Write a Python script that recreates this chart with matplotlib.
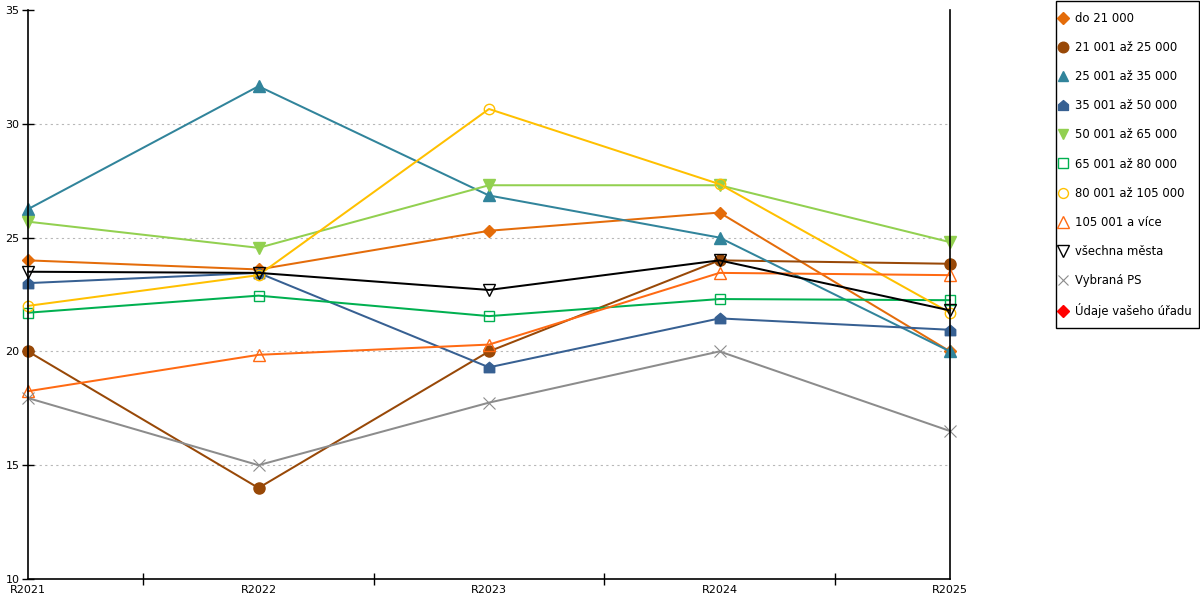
import matplotlib
matplotlib.use("Agg")
import matplotlib.pyplot as plt
from matplotlib.path import Path
from matplotlib.patches import Rectangle
import numpy as np

categories = ["R2021", "R2022", "R2023", "R2024", "R2025"]

do_21000 = [24.0, 23.6, 25.3, 26.1, 20.0]
s21_25 = [20.0, 14.0, 20.0, 24.0, 23.85]
s25_35 = [26.25, 31.65, 26.85, 25.0, 20.0]
s35_50 = [23.0, 23.45, 19.3, 21.45, 20.95]
s50_65 = [25.7, 24.55, 27.3, 27.3, 24.8]
s65_80 = [21.7, 22.45, 21.55, 22.3, 22.25]
s80_105 = [22.0, 23.35, 30.65, 27.35, 21.7]
s105_plus = [18.25, 19.85, 20.3, 23.45, 23.35]
vsechna = [23.5, 23.45, 22.7, 24.0, 21.8]
vybrana = [17.95, 15.0, 17.75, 20.0, 16.5]
udaje = [np.nan, np.nan, np.nan, np.nan, np.nan]

labels = ["do 21 000", "21 001 až 25 000", "25 001 až 35 000", "35 001 až 50 000",
          "50 001 až 65 000", "65 001 až 80 000", "80 001 až 105 000", "105 001 a více",
          "všechna města", "Vybraná PS", "Údaje vašeho úřadu"]
y_ticks = [10, 15, 20, 25, 30, 35]

house = Path([(-1, -1), (1, -1), (1, 0.15), (0, 1), (-1, 0.15), (-1, -1)],
             [Path.MOVETO, Path.LINETO, Path.LINETO, Path.LINETO, Path.LINETO, Path.CLOSEPOLY])

series = [do_21000, s21_25, s25_35, s35_50, s50_65, s65_80, s80_105, s105_plus, vsechna, vybrana, udaje]
styles = [
    dict(color="#E46C0A", marker="D", ms=6.2, mfc="#E46C0A", mec="#E46C0A"),
    dict(color="#984807", marker="o", ms=8, mfc="#984807", mec="#984807"),
    dict(color="#31849B", marker="^", ms=8, mfc="#31849B", mec="#31849B"),
    dict(color="#376092", marker=house, ms=7.5, mfc="#376092", mec="#376092"),
    dict(color="#92D050", marker="v", ms=8, mfc="#92D050", mec="#92D050"),
    dict(color="#00B050", marker="s", ms=7.5, mfc="none", mec="#00B050", mew=1.0),
    dict(color="#FFC000", marker="o", ms=7.5, mfc="none", mec="#FFC000", mew=1.0),
    dict(color="#FF6A13", marker="^", ms=8.5, mfc="none", mec="#FF6A13", mew=1.0),
    dict(color="#000000", marker="v", ms=8.5, mfc="none", mec="#000000", mew=1.0),
    dict(color="#8C8C8C", marker="x", ms=8, mfc="none", mec="#8C8C8C", mew=0.8),
    dict(color="#FF0000", marker="D", ms=6.2, mfc="#FF0000", mec="#FF0000"),
]

fig = plt.figure(figsize=(12, 6), dpi=100)
ax = fig.add_axes([28 / 1200, 1 - 579 / 600, (950 - 28) / 1200, (579 - 10) / 600])

x = np.arange(len(categories))
handles = []
for vals, lab, st in zip(series, labels, styles):
    h, = ax.plot(x, vals, lw=1.45, label=lab, clip_on=False, **st)
    handles.append(h)

ax.set_xlim(0, len(categories) - 1)
ax.set_ylim(10, 35)
ax.set_yticks(y_ticks)
ax.set_yticklabels([str(v) for v in y_ticks], fontsize=8)
ax.set_xticks(x)
ax.set_xticklabels(categories, fontsize=8)
ax.set_xticks(np.arange(0.5, len(categories) - 1, 1.0), minor=True)
ax.tick_params(axis="x", which="major", length=0, pad=4)
ax.tick_params(axis="x", which="minor", direction="inout", length=8, width=1)
ax.tick_params(axis="y", direction="inout", length=8, width=1, pad=2)

ax.yaxis.grid(True, linestyle=(0, (2, 3)), color="#b8b8b8", linewidth=0.8)
for gl, t in zip(ax.yaxis.get_gridlines(), y_ticks):
    if t in (10, 35):
        gl.set_visible(False)
ax.set_axisbelow(True)

ax.spines["top"].set_visible(False)
for s in ("left", "right", "bottom"):
    ax.spines[s].set_color("black")
    ax.spines[s].set_linewidth(1.2)

leg = fig.legend(handles=handles, loc="upper left", bbox_to_anchor=(1063 / 1200, 1 - 12 / 600),
                 fontsize=8.4, frameon=False,
                 labelspacing=1.38, handlelength=0, handletextpad=1.04, borderpad=0,
                 borderaxespad=0, markerscale=0.95)

fig.patches.append(Rectangle((1055.5 / 1200, 1 - 328 / 600), 143 / 1200, 327 / 600,
                             transform=fig.transFigure, fill=False, edgecolor="black",
                             linewidth=1.0))

fig.savefig("out.png", dpi=100)
